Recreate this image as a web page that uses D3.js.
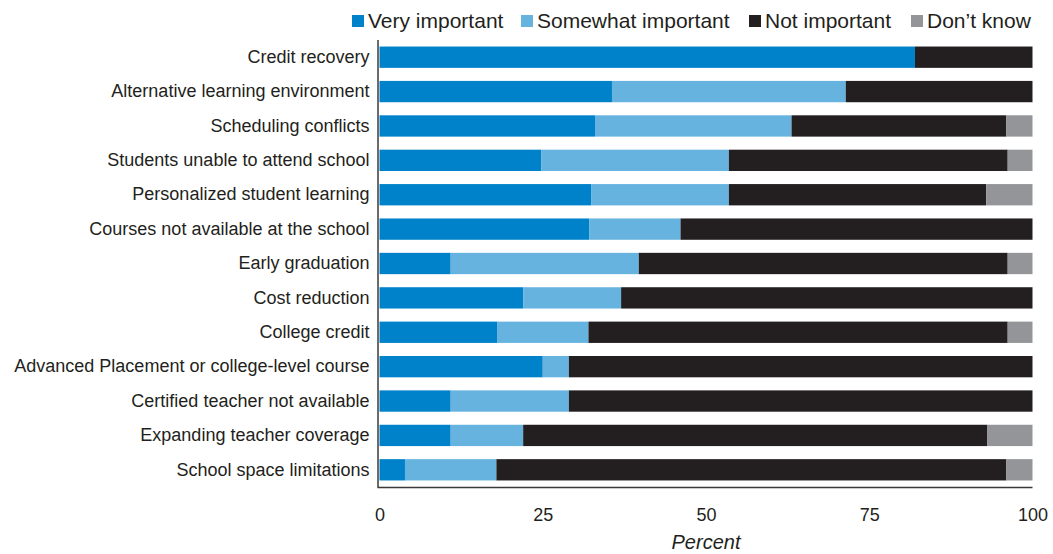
<!DOCTYPE html>
<html>
<head>
<meta charset="utf-8">
<script src="https://cdn.jsdelivr.net/npm/d3@7"></script>
<style>
  html, body { margin: 0; padding: 0; background: #fff; }
  svg { display: block; }
  text { font-family: "Liberation Sans", Arial, sans-serif; fill: #231F20; }
</style>
</head>
<body>
<svg id="chart" width="1053" height="554"></svg>
<script>
const categories = [
  "Credit recovery",
  "Alternative learning environment",
  "Scheduling conflicts",
  "Students unable to attend school",
  "Personalized student learning",
  "Courses not available at the school",
  "Early graduation",
  "Cost reduction",
  "College credit",
  "Advanced Placement or college-level course",
  "Certified teacher not available",
  "Expanding teacher coverage",
  "School space limitations"
];
const veryImportant     = [82.0, 35.6, 33.0, 24.8, 32.4, 32.1, 10.9, 22.0, 18.0, 25.0, 10.9, 10.9, 3.9];
const somewhatImportant = [0.0, 35.8, 30.1, 28.7, 21.1, 14.0, 28.8, 15.0, 14.0, 4.0, 18.1, 11.1, 14.0];
const notImportant      = [18.0, 28.6, 32.9, 42.7, 39.4, 53.9, 56.5, 63.0, 64.2, 71.0, 71.0, 71.1, 78.1];
const dontKnow          = [0.0, 0.0, 4.0, 3.8, 7.1, 0.0, 3.8, 0.0, 3.8, 0.0, 0.0, 6.9, 4.0];
const seriesNames = ["Very important", "Somewhat important", "Not important", "Don\u2019t know"];
const seriesColors = ["#0082CA", "#67B3E0", "#231F20", "#939598"];
const xTicks = [0, 25, 50, 75, 100];
const xTitle = "Percent";

const svg = d3.select("#chart");
const margin = {left: 379.5, right: 20.5, top: 40, bottom: 67};
const W = 1053, H = 554;

const rows = categories.map((c, i) => ({
  category: c,
  "Very important": veryImportant[i],
  "Somewhat important": somewhatImportant[i],
  "Not important": notImportant[i],
  "Don\u2019t know": dontKnow[i]
}));

const stack = d3.stack().keys(seriesNames);
const stacked = stack(rows);

const x = d3.scaleLinear().domain([0, 100]).range([margin.left, W - margin.right]);
const y = d3.scaleBand().domain(categories).range([margin.top, H - margin.bottom])
  .paddingInner(0.38).paddingOuter(0.19);
const color = d3.scaleOrdinal().domain(seriesNames).range(seriesColors);

// bars
svg.append("g").selectAll("g").data(stacked).join("g")
  .attr("fill", d => color(d.key))
  .selectAll("rect").data(d => d).join("rect")
  .attr("x", d => x(d[0]))
  .attr("y", d => y(d.data.category))
  .attr("width", d => Math.max(0, x(d[1]) - x(d[0])))
  .attr("height", y.bandwidth());

// axes lines
const axisColor = "#3a3a3a";
svg.append("line")
  .attr("x1", margin.left - 1.5).attr("x2", margin.left - 1.5)
  .attr("y1", margin.top).attr("y2", H - margin.bottom + 0.5)
  .attr("stroke", axisColor).attr("stroke-width", 1.5);
svg.append("line")
  .attr("x1", margin.left - 2).attr("x2", W - margin.right)
  .attr("y1", H - margin.bottom + 0.5).attr("y2", H - margin.bottom + 0.5)
  .attr("stroke", axisColor).attr("stroke-width", 1.5);

// x axis tick labels
const xAxis = d3.axisBottom(x).tickValues(xTicks).tickSize(0).tickPadding(21);
const gx = svg.append("g").attr("transform", `translate(0,${H - margin.bottom})`).call(xAxis);
gx.select(".domain").remove();
gx.selectAll("text").style("font-family", "Liberation Sans, Arial, sans-serif")
  .style("font-size", "18px").attr("fill", "#231F20");

svg.append("text")
  .attr("x", x(50)).attr("y", 549)
  .attr("text-anchor", "middle")
  .style("font-size", "20px").style("font-style", "italic")
  .text(xTitle);

// y axis labels
const yAxis = d3.axisLeft(y).tickSize(0).tickPadding(10);
const gy = svg.append("g").attr("transform", `translate(${margin.left},0)`).call(yAxis);
gy.select(".domain").remove();
gy.selectAll("text").style("font-family", "Liberation Sans, Arial, sans-serif")
  .style("font-size", "18px").attr("fill", "#231F20");

// legend
const legendX = [352, 521, 749, 911];
const lg = svg.append("g");
seriesNames.forEach((s, i) => {
  const g = lg.append("g").attr("transform", `translate(${legendX[i]},21)`);
  g.append("rect").attr("x", 0).attr("y", -6).attr("width", 12).attr("height", 12).attr("fill", seriesColors[i]);
  g.append("text").attr("x", 16).attr("y", 0).attr("dy", "0.35em")
    .style("font-size", "21px").text(s);
});
</script>
</body>
</html>
